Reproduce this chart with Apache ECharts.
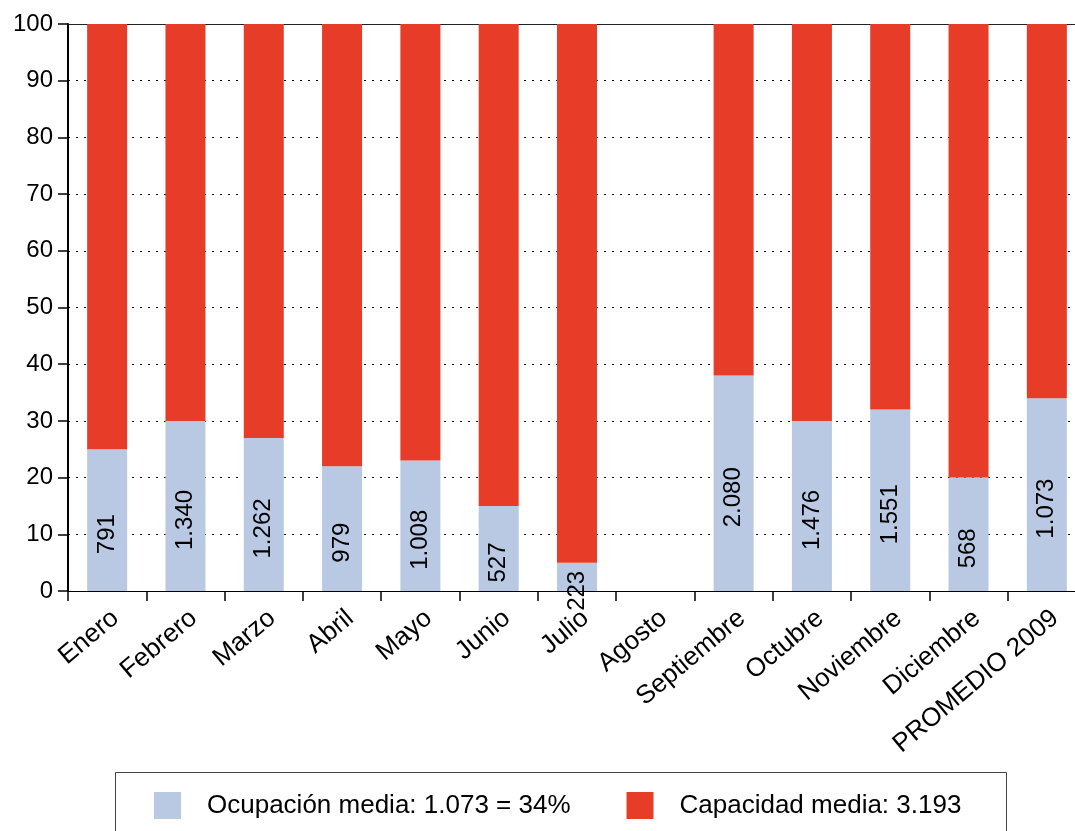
<!DOCTYPE html>
<html>
<head>
<meta charset="utf-8">
<script src="https://cdn.jsdelivr.net/npm/echarts@6/dist/echarts.min.js"></script>
<style>
html,body{margin:0;padding:0;background:#fff;}
#chart{width:1075px;height:831px;}
</style>
</head>
<body>
<div id="chart"></div>
<script>
const categories = ["Enero","Febrero","Marzo","Abril","Mayo","Junio","Julio","Agosto","Septiembre","Octubre","Noviembre","Diciembre","PROMEDIO 2009"];
const ocupacion = [25, 30, 27, 22, 23, 15, 5, null, 38, 30, 32, 20, 34];
const capacidad = [75, 70, 73, 78, 77, 85, 95, null, 62, 70, 68, 80, 66];
const barLabels = ["791","1.340","1.262","979","1.008","527","223","","2.080","1.476","1.551","568","1.073"];
const yTicks = [0,10,20,30,40,50,60,70,80,90,100];
const legendNames = ["Ocupación media: 1.073 = 34%", "Capacidad media: 3.193"];

const FONT = "'Liberation Sans', Arial, Helvetica, sans-serif";
const BLUE = "#B9C9E3";
const RED = "#E73C27";

const chart = echarts.init(document.getElementById('chart'), null, {renderer: 'canvas'});
chart.setOption({
  animation: false,
  backgroundColor: '#fff',
  textStyle: {fontFamily: FONT, color: '#000'},
  grid: {left: 68, width: 1018, top: 24, height: 567, containLabel: false, outerBoundsMode: 'none'},
  legend: {
    left: 154, top: 792, padding: 0,
    itemWidth: 27, itemHeight: 27, itemGap: 56,
    icon: 'rect',
    textStyle: {fontFamily: FONT, fontSize: 26, color: '#000', padding: [0,0,0,21]},
    data: legendNames
  },
  graphic: [{
    type: 'rect',
    shape: {x: 115.5, y: 772.5, width: 891, height: 80},
    style: {fill: 'none', stroke: '#444', lineWidth: 1},
    silent: true
  }],
  xAxis: [{
    type: 'category',
    data: categories,
    boundaryGap: true,
    axisLine: {show: true, lineStyle: {color: '#000', width: 1}},
    axisTick: {show: true, length: 10, lineStyle: {color: '#000', width: 1.5}, alignWithLabel: false},
    axisLabel: {rotate: 40, fontSize: 26, color: '#000', fontFamily: FONT, margin: 14,
      verticalAlign: 'top', interval: 0},
    splitLine: {show: false}
  }, {
    type: 'category',
    data: categories,
    position: 'top',
    axisLine: {show: true, lineStyle: {color: '#222', width: 1}},
    axisTick: {show: false},
    axisLabel: {show: false},
    splitLine: {show: false}
  }],
  yAxis: {
    type: 'value',
    min: 0, max: 100, interval: 10,
    axisLine: {show: true, lineStyle: {color: '#000', width: 2}},
    axisTick: {show: true, length: 10, lineStyle: {color: '#000', width: 1.5}},
    axisLabel: {fontSize: 24, color: '#000', fontFamily: FONT, margin: 15,
      formatter: v => yTicks.includes(v) ? String(v) : ''},
    splitLine: {show: true, lineStyle: {color: '#000', width: 1, type: [2, 6]}}
  },
  series: [{
    name: legendNames[0],
    type: 'bar',
    stack: 'total',
    barWidth: 40,
    itemStyle: {color: BLUE},
    data: ocupacion,
    label: {
      show: true,
      position: 'inside',
      rotate: 90,
      offset: [-14, 0],
      fontSize: 24,
      fontFamily: FONT,
      color: '#000',
      formatter: p => barLabels[p.dataIndex]
    },
    z: 3
  }, {
    name: legendNames[1],
    type: 'bar',
    stack: 'total',
    barWidth: 40,
    itemStyle: {color: RED},
    data: capacidad,
    z: 3
  }]
});
</script>
</body>
</html>
